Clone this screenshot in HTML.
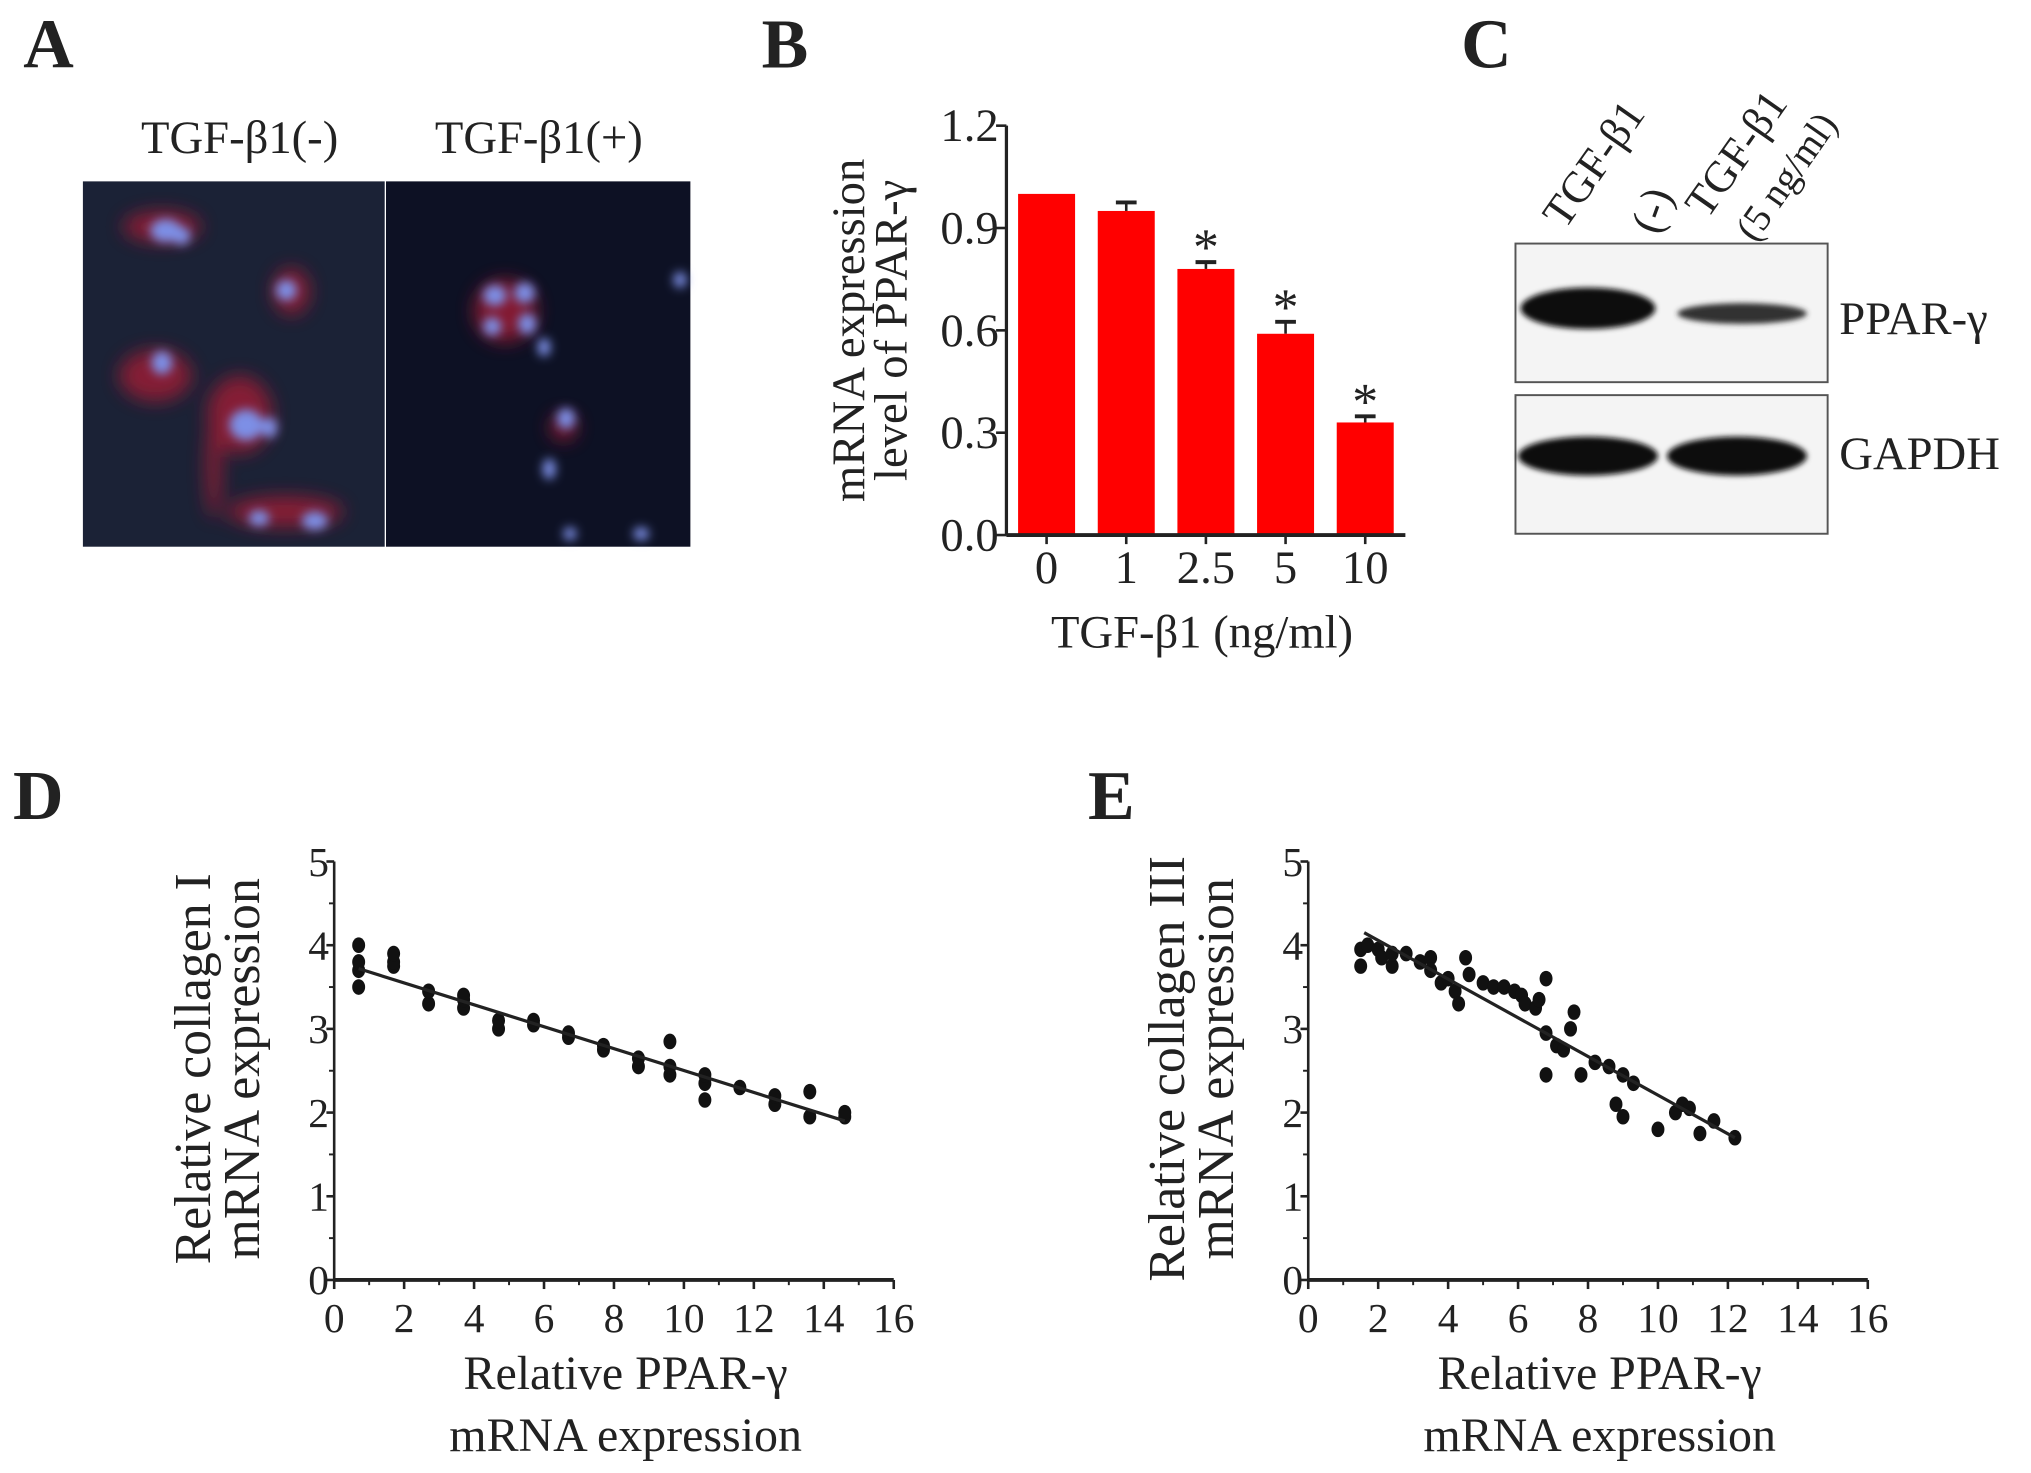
<!DOCTYPE html>
<html><head><meta charset="utf-8"><style>
html,body{margin:0;padding:0;background:#fff}
svg{display:block}
text{font-family:"Liberation Serif",serif;fill:#222}
</style></head><body>
<svg id="fig" width="2031" height="1473" viewBox="0 0 1568 1137" preserveAspectRatio="none">
<defs>
<filter id="bl" x="-50%" y="-50%" width="200%" height="200%"><feGaussianBlur stdDeviation="4"/></filter>
<filter id="bl2" x="-50%" y="-50%" width="200%" height="200%"><feGaussianBlur stdDeviation="7"/></filter>
<filter id="bl3" x="-50%" y="-50%" width="200%" height="200%"><feGaussianBlur stdDeviation="2"/></filter>
</defs>
<g font-weight="bold" font-size="54">
<text x="18" y="52">A</text>
<text x="588" y="52">B</text>
<text x="1128" y="52">C</text>
<text x="10" y="632">D</text>
<text x="840" y="632">E</text>
</g>
<!-- Panel A -->
<g>
<text x="185" y="118" font-size="36" text-anchor="middle">TGF-β1(-)</text>
<text x="416" y="118" font-size="36" text-anchor="middle">TGF-β1(+)</text>
<rect x="64" y="140" width="233" height="282" fill="#1b2236"/>
<rect x="298" y="140" width="235" height="282" fill="#0d1124"/>
<g filter="url(#bl2)" fill="#a01a36" opacity="0.8">
<ellipse cx="125" cy="175" rx="30" ry="12"/><ellipse cx="225" cy="225" rx="14" ry="18"/>
<ellipse cx="120" cy="290" rx="28" ry="20"/><ellipse cx="185" cy="320" rx="25" ry="30"/>
<ellipse cx="220" cy="395" rx="45" ry="12"/><ellipse cx="165" cy="360" rx="6" ry="40"/>
<ellipse cx="390" cy="240" rx="24" ry="24"/><ellipse cx="435" cy="330" rx="10" ry="10"/>
</g>
<g filter="url(#bl)" fill="#7d8fe6">
<ellipse cx="128" cy="178" rx="12" ry="9"/><ellipse cx="140" cy="182" rx="7" ry="7"/>
<ellipse cx="221" cy="224" rx="8" ry="8"/><ellipse cx="125" cy="280" rx="8" ry="9"/>
<ellipse cx="190" cy="328" rx="13" ry="12"/><ellipse cx="208" cy="330" rx="6" ry="8"/>
<ellipse cx="200" cy="400" rx="8" ry="6"/><ellipse cx="243" cy="402" rx="10" ry="7"/>
<ellipse cx="382" cy="228" rx="9" ry="8"/><ellipse cx="405" cy="226" rx="8" ry="8"/>
<ellipse cx="380" cy="252" rx="7" ry="7"/><ellipse cx="407" cy="250" rx="7" ry="8"/>
<ellipse cx="525" cy="216" rx="5" ry="6"/><ellipse cx="420" cy="268" rx="5" ry="7"/>
<ellipse cx="437" cy="323" rx="7" ry="8"/><ellipse cx="424" cy="362" rx="5" ry="8"/>
<ellipse cx="495" cy="412" rx="6" ry="5"/><ellipse cx="440" cy="412" rx="5" ry="5"/>
</g>
</g>
<!-- Panel B -->
<g id="chartB"></g>
<!-- Panel C -->
<g>
<g font-size="34">
<text transform="translate(1208,178) rotate(-55)">TGF-β1</text>
<text transform="translate(1280,182) rotate(-70)">(-)</text>
<text transform="translate(1318,170) rotate(-55)">TGF-β1</text>
<text transform="translate(1355,188) rotate(-55)" font-size="30">(5 ng/ml)</text>
</g>
<rect x="1170" y="188" width="241" height="107" fill="#f4f4f4" stroke="#555" stroke-width="1.5"/>
<rect x="1170" y="305" width="241" height="107" fill="#f4f4f4" stroke="#555" stroke-width="1.5"/>
<g filter="url(#bl3)" fill="#111">
<ellipse cx="1226" cy="238" rx="52" ry="16"/>
<ellipse cx="1345" cy="242" rx="50" ry="8" fill="#333"/>
<ellipse cx="1226" cy="352" rx="54" ry="15"/>
<ellipse cx="1341" cy="352" rx="54" ry="15"/>
</g>
<text x="1420" y="258" font-size="36">PPAR-γ</text>
<text x="1420" y="362" font-size="36">GAPDH</text>
</g>
<g id="chartD"></g>
<g id="chartE"></g>
</svg>
<script>
const NS="http://www.w3.org/2000/svg";
// Panel B data
const bCategories=["0","1","2.5","5","10"];
const bValues=[1.0,0.95,0.78,0.59,0.33];
const bErrors=[0,0.025,0.02,0.035,0.018];
const bSignificant=[false,false,true,true,true];
const bTicks=[0,0.3,0.6,0.9,1.2];
const bTickLabels=["0.0","0.3","0.6","0.9","1.2"];
// Panel D data
const dX=[0.7,0.7,0.7,0.7,1.7,1.7,1.7,2.7,2.7,3.7,3.7,3.7,4.7,4.7,5.7,5.7,6.7,6.7,7.7,7.7,8.7,8.7,9.6,9.6,9.6,10.6,10.6,10.6,11.6,12.6,12.6,13.6,13.6,14.6,14.6];
const dY=[3.5,3.7,3.8,4.0,3.75,3.8,3.9,3.3,3.45,3.25,3.35,3.4,3.0,3.1,3.05,3.1,2.9,2.95,2.75,2.8,2.55,2.65,2.45,2.55,2.85,2.15,2.35,2.45,2.3,2.1,2.2,1.95,2.25,1.95,2.0];
const dFitX=[0.7,14.6];
const dFitY=[3.72,1.9];
// Panel E data
const eX=[1.5,1.5,1.7,2.0,2.1,2.4,2.4,2.8,3.2,3.5,3.5,3.8,4.0,4.2,4.3,4.5,4.6,5.0,5.3,5.6,5.9,6.1,6.2,6.5,6.6,6.8,6.8,6.8,7.1,7.3,7.5,7.6,7.8,8.2,8.6,8.8,9.0,9.0,9.3,10.0,10.5,10.7,10.9,11.2,11.6,12.2];
const eY=[3.75,3.95,4.0,3.95,3.85,3.75,3.9,3.9,3.8,3.85,3.7,3.55,3.6,3.45,3.3,3.85,3.65,3.55,3.5,3.5,3.45,3.4,3.3,3.25,3.35,3.6,2.95,2.45,2.8,2.75,3.0,3.2,2.45,2.6,2.55,2.1,1.95,2.45,2.35,1.8,2.0,2.1,2.05,1.75,1.9,1.7];
const eFitX=[1.6,12.2];
const eFitY=[4.15,1.7];
const xTicks=[0,2,4,6,8,10,12,14,16];
const yTicks=[0,1,2,3,4,5];

function mk(parent,tag,attrs,txt){const e=document.createElementNS(NS,tag);for(const k in attrs)e.setAttribute(k,attrs[k]);if(txt!==undefined)e.textContent=txt;parent.appendChild(e);return e;}

// Bar chart B
(function(){
const g=document.getElementById('chartB');
const x0=777,x1=1085,yTop=97,yBot=413;
const ys=v=>yBot-(v/1.2)*(yBot-yTop);
const step=61.5,first=808,bw=44;
const xs=i=>first+i*step;
bTicks.forEach((t,i)=>{
 const tk=mk(g,'line',{x1:x0-8,x2:x0,y1:ys(t),y2:ys(t),stroke:'#222','stroke-width':2});
 
 
 const lb=mk(g,'text',{x:x0-6,y:ys(t)+12,'font-size':36,'text-anchor':'end'},bTickLabels[i]);
 
 
});
bValues.forEach((v,i)=>{
 const cx=xs(i);
 if(bErrors[i]>0){
  const e1=mk(g,'line',{x1:cx,x2:cx,y1:ys(v),y2:ys(v+bErrors[i]),stroke:'#222','stroke-width':2});
  
  
  const e2=mk(g,'line',{x1:cx-8,x2:cx+8,y1:ys(v+bErrors[i]),y2:ys(v+bErrors[i]),stroke:'#222','stroke-width':3});
  
  
 }
 const r=mk(g,'rect',{x:cx-bw/2,y:ys(v),width:bw,height:yBot-ys(v),fill:'#ff0000'});
 
 
 if(bSignificant[i]){
  const s=mk(g,'text',{x:cx,y:ys(v+bErrors[i])+2,'font-size':40,'text-anchor':'middle'},'*');
  
  
 }
 const t=mk(g,'line',{x1:cx,x2:cx,y1:yBot,y2:yBot+7,stroke:'#222','stroke-width':2});
 
 
 const lb=mk(g,'text',{x:cx,y:450,'font-size':36,'text-anchor':'middle'},bCategories[i]);
 
 
});
const ya=mk(g,'line',{x1:x0,x2:x0,y1:yTop,y2:yBot,stroke:'#222','stroke-width':2.5});


const xa=mk(g,'line',{x1:x0,x2:x1,y1:yBot,y2:yBot,stroke:'#222','stroke-width':3});


const yt=mk(g,'text',{transform:'translate(667,255) rotate(-90)','font-size':36,'text-anchor':'middle'},'mRNA expression');


const yt2=mk(g,'text',{transform:'translate(700,255) rotate(-90)','font-size':36,'text-anchor':'middle'},'level of PPAR-γ');


const xt=mk(g,'text',{x:928,y:500,'font-size':36,'text-anchor':'middle'},'TGF-β1 (ng/ml)');


})();

function scatter(id,x0,px,py,fx,fy,yl){
const g=document.getElementById(id);
const xEnd=x0+432,yTop=665,yBot=988;
const xs=v=>x0+v*(xEnd-x0)/16;
const ys=v=>yBot-v*(yBot-yTop)/5;
yTicks.forEach(t=>{
 const tk=mk(g,'line',{x1:x0-6,x2:x0,y1:ys(t),y2:ys(t),stroke:'#222','stroke-width':2});
 
 
 const lb=mk(g,'text',{x:x0-4,y:ys(t)+11,'font-size':32,'text-anchor':'end'},String(t));
 
 
});
for(let t=0.5;t<5;t+=1){
 const m=mk(g,'line',{x1:x0-4,x2:x0,y1:ys(t),y2:ys(t),stroke:'#222','stroke-width':1.5});
 
 
}
xTicks.forEach(t=>{
 const tk=mk(g,'line',{x1:xs(t),x2:xs(t),y1:yBot,y2:yBot+7,stroke:'#222','stroke-width':2});
 
 
 const lb=mk(g,'text',{x:xs(t),y:1028,'font-size':32,'text-anchor':'middle'},String(t));
 
 
});
for(let t=1;t<16;t+=2){
 const m=mk(g,'line',{x1:xs(t),x2:xs(t),y1:yBot,y2:yBot+4,stroke:'#222','stroke-width':1.5});
 
 
}
const ya=mk(g,'line',{x1:x0,x2:x0,y1:yTop,y2:yBot,stroke:'#222','stroke-width':2});


const xa=mk(g,'line',{x1:x0,x2:xEnd,y1:yBot,y2:yBot,stroke:'#222','stroke-width':3});


px.forEach((v,i)=>{
 const c=mk(g,'ellipse',{cx:xs(v),cy:ys(py[i]),rx:5,ry:6,fill:'#111'});
 
 
});
const fl=mk(g,'line',{x1:xs(fx[0]),y1:ys(fy[0]),x2:xs(fx[1]),y2:ys(fy[1]),stroke:'#222','stroke-width':2.5});


const t1=mk(g,'text',{transform:`translate(${x0-96},825) rotate(-90)`,'font-size':40,'text-anchor':'middle'},yl);


const t2=mk(g,'text',{transform:`translate(${x0-58},825) rotate(-90)`,'font-size':40,'text-anchor':'middle'},'mRNA expression');


const x1t=mk(g,'text',{x:x0+225,y:1072,'font-size':37,'text-anchor':'middle'},'Relative PPAR-γ');


const x2t=mk(g,'text',{x:x0+225,y:1120,'font-size':37,'text-anchor':'middle'},'mRNA expression');


}
scatter('chartD',258,dX,dY,dFitX,dFitY,'Relative collagen I');
scatter('chartE',1010,eX,eY,eFitX,eFitY,'Relative collagen III');
</script>
</body></html>
